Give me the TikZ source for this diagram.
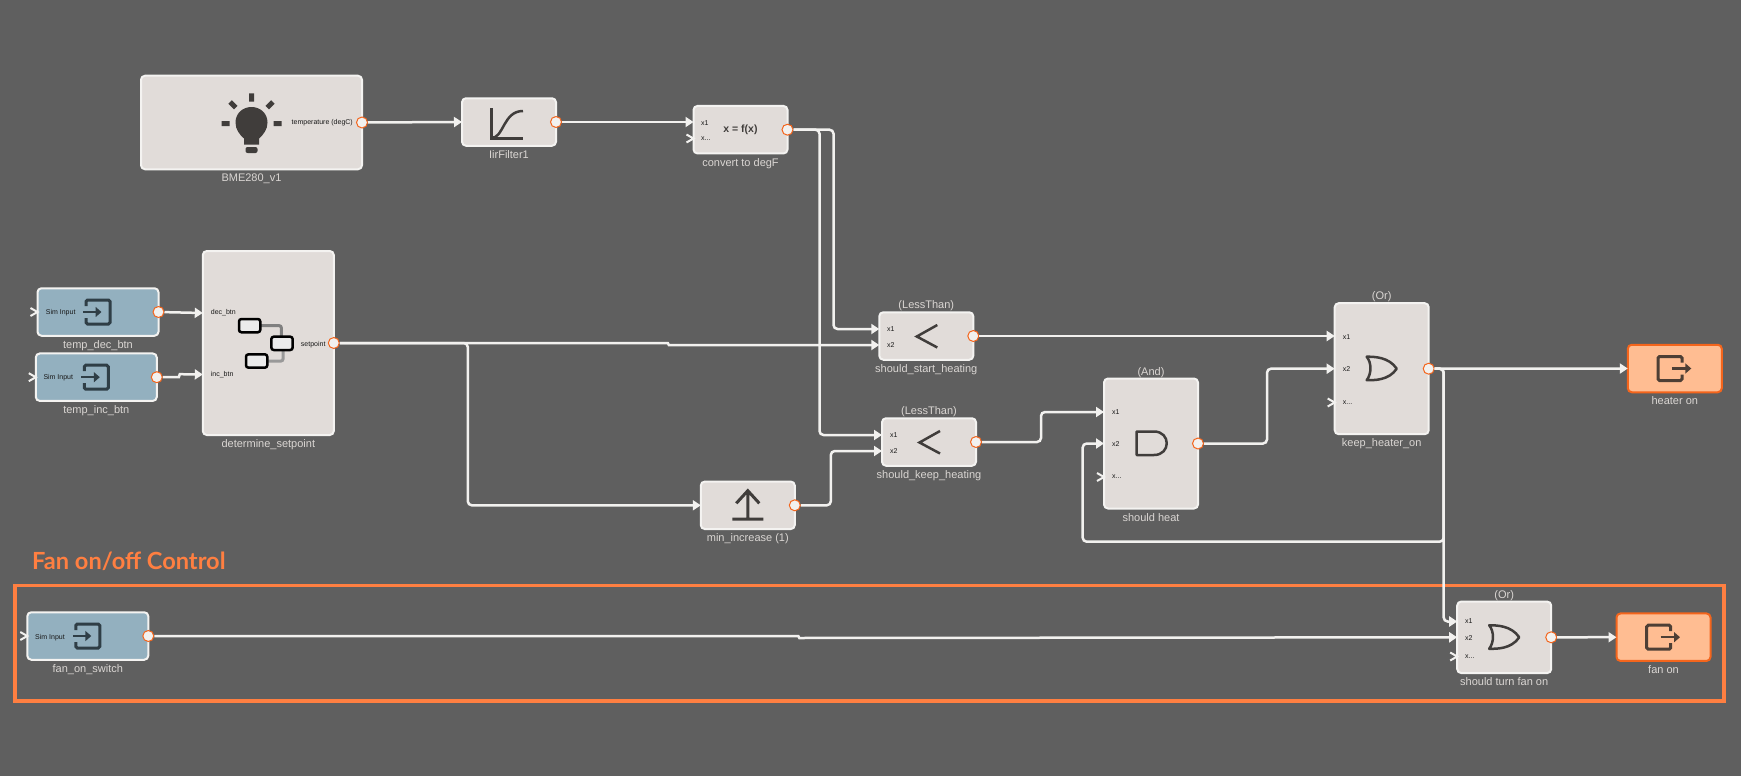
\documentclass[tikz,border=0pt]{standalone}
\usepackage{fontspec}
\setmainfont{Liberation Sans}
\newfontfamily\titlefont{Lato}
\usetikzlibrary{arrows.meta, positioning}
\definecolor{canvas}{HTML}{5F5F5F}
\definecolor{blockfill}{HTML}{E1DCD9}
\definecolor{blockline}{HTML}{F4F3F1}
\definecolor{simfill}{HTML}{93B0BF}
\definecolor{outfill}{HTML}{FFBD92}
\definecolor{outline}{HTML}{F4651C}
\definecolor{framecol}{HTML}{FF7F41}
\definecolor{wirecol}{HTML}{F2F1EF}
\definecolor{captcol}{HTML}{DAD6D3}
\definecolor{icondark}{HTML}{403D3B}
\definecolor{iconsim}{HTML}{2F3E46}
\definecolor{iconout}{HTML}{4E3F35}

\begin{document}
\begin{tikzpicture}[x=1pt, y=-1pt, node distance=4.5pt,
        block/.style={draw=blockline, fill=blockfill, rounded corners=4pt, line width=2pt, outer sep=0pt, minimum width=94pt, minimum height=47.5pt, inner sep=0pt},
        simblock/.style={block, fill=simfill, minimum width=121pt},
        outblock/.style={block, draw=outline, fill=outfill},
        port/.style={circle, draw=outline, fill=wirecol, line width=1pt, minimum size=11pt, inner sep=0pt},
        caption/.style={text=captcol, inner sep=0pt, font=\fontsize{11}{13}\selectfont},
        blocktype/.style={caption, yshift=-3.5pt},
        pinlabel/.style={text=black!90, anchor=west, inner sep=0pt, font=\fontsize{7}{8}\selectfont},
        wire/.style={draw=wirecol, line width=2.5pt, rounded corners=4pt, -{Triangle[length=8pt, width=10pt]}},
        stepwire/.style={wire, rounded corners=0pt},
        fanframe/.style={draw=framecol, line width=3.5pt, minimum width=1709pt, minimum height=115.5pt},
        openpin/.pic={\draw[wirecol, line width=2pt] (-7,-4) -- (0,0) -- (-7,4);},
        simin/.pic={\draw[iconsim, line width=3pt, rounded corners=1.5pt] (-12,-6) -- (-12,-12) -- (12,-12) -- (12,12) -- (-12,12) -- (-12,6);
            \draw[iconsim, line width=2.5pt, -{Triangle[length=6pt, width=10pt]}] (-15,0) -- (3.5,0);},
        simout/.pic={\draw[iconout, line width=3pt, rounded corners=1.5pt] (7.2,-6) -- (7.2,-12) -- (-16.8,-12) -- (-16.8,12) -- (7.2,12) -- (7.2,6);
            \draw[iconout, line width=2.5pt, -{Triangle[length=6pt, width=10pt]}] (-3,0) -- (16.5,0);},
        ltgate/.pic={\draw[icondark, line width=2.5pt] (11,-11) -- (-9.5,0.5) -- (11,11.5);},
        orgate/.pic={\draw[icondark, line width=2.5pt, line join=round] (-15,-12) .. controls (-8,-12) and (7,-12) .. (15,0) .. controls (7,12) and (-8,11.5) .. (-15,11.5) .. controls (-10,5) and (-10,-6) .. (-15,-12) -- cycle;},
        andgate/.pic={\draw[icondark, line width=2.5pt, line join=round] (-14.5,-12) -- (3,-12) .. controls (20,-12) and (20,11.5) .. (3,11.5) -- (-14.5,11.5) -- cycle;},
        bulb/.pic={\fill[icondark] (-7.5,22) -- (-7.5,16) .. controls (-12,12) and (-16,7) .. (-16,0) .. controls (-16,-9) and (-9,-15.5) .. (0,-15.5) .. controls (9,-15.5) and (16,-9) .. (16,0) .. controls (16,7) and (12,12) .. (7.5,16) -- (7.5,22) -- cycle;
            \fill[icondark, rounded corners=2pt] (-6,24.5) rectangle (6,30.5);
            \draw[icondark, line width=5pt] (0,-29) -- (0,-21) (-30,1) -- (-22,1) (22,1) -- (30,1) (-21.3,-20.5) -- (-15.7,-14.9) (21.3,-20.5) -- (15.7,-14.9);},
        iircurve/.pic={\draw[icondark, line width=2.5pt] (-17.6,-14) -- (-17.6,16.7) -- (14,16.7);
            \draw[icondark, line width=2.5pt] (-17.6,16) .. controls (-5,16) and (-6,-11) .. (14,-11);},
        submodel/.pic={\draw[black!50, line width=3pt, rounded corners=2pt] (-8,-17.3) -- (13,-17.3) -- (13,-6.3);
            \draw[black!40, line width=3pt, rounded corners=2pt] (-1,18) -- (14.7,18) -- (14.7,7);
            \draw[black, fill=black!8, line width=2.5pt, rounded corners=2.5pt] (-29.3,-24) rectangle (-8,-10.7) (3,-6.3) rectangle (24.4,7) (-22.3,11.3) rectangle (-1,24.7);},
        uparrow/.pic={\draw[icondark, line width=3pt] (-11.5,-2) -- (0,-14.6) -- (11.5,-2) (0,-14.6) -- (0,13.7) (-15.5,13.7) -- (15.5,13.7);}]

    \fill[canvas] (0,0) rectangle (1741,776);
    \useasboundingbox (0,0) rectangle (1741,776);

    \node[fanframe] (fanbox) at (869.5,643.2) {};
    \node[text=framecol, anchor=west, inner sep=0pt, font=\titlefont\bfseries\fontsize{23.6}{26}\selectfont] (fantitle) at (32,561.7) {Fan on/off Control};

    \node[block, minimum width=221pt, minimum height=93.5pt] (bme) at (251.5,122.5) {};
    \node[block] (lir) at (509,122) {};
    \node[block, font=\bfseries\fontsize{10.5}{12}\selectfont, text=icondark] (conv) at (740.5,129.7) {x = f(x)};
    \node[simblock] (dec) at (98,312) {};
    \node[simblock] (inc) at (96.3,377.2) {};
    \node[block, minimum width=131pt, minimum height=184pt] (setp) at (268.3,343) {};
    \node[block] (start) at (926.3,336) {};
    \node[block] (keep) at (929,442) {};
    \node[block] (minc) at (747.8,505.3) {};
    \node[block, minimum height=130pt] (andg) at (1151,443.5) {};
    \node[block, minimum height=131pt] (org) at (1381.7,368.7) {};
    \node[outblock] (heater) at (1674.8,368.5) {};
    \node[simblock] (fansw) at (87.8,636) {};
    \node[block, minimum height=71.5pt] (fanor) at (1504.2,637.3) {};
    \node[outblock] (fanon) at (1663.5,637.2) {};

    \node[caption, below=of bme] (bmename) {BME280\_v1};
    \node[caption, below=of lir] (lirname) {IirFilter1};
    \node[caption, below=of conv] (convname) {convert to degF};
    \node[caption, below=of dec] (decname) {temp\_dec\_btn};
    \node[caption, below=of inc] (incname) {temp\_inc\_btn};
    \node[caption, below=of setp] (setpname) {determine\_setpoint};
    \node[caption, below=of start] (startname) {should\_start\_heating};
    \node[caption, below=of keep] (keepname) {should\_keep\_heating};
    \node[caption, below=of minc] (mincname) {min\_increase (1)};
    \node[caption, below=of andg] (andname) {should heat};
    \node[caption, below=of org] (orname) {keep\_heater\_on};
    \node[caption, below=of heater] (heatername) {heater on};
    \node[caption, below=of fansw] (fanswname) {fan\_on\_switch};
    \node[caption, below=of fanor] (fanorname) {should turn fan on};
    \node[caption, below=of fanon] (fanonname) {fan on};
    \node[blocktype, above=of start] (starttype) {(LessThan)};
    \node[blocktype, above=of keep] (keeptype) {(LessThan)};
    \node[blocktype, above=of andg] (andtype) {(And)};
    \node[blocktype, above=of org] (ortype) {(Or)};
    \node[blocktype, above=of fanor] (fanortype) {(Or)};

    \node[pinlabel, anchor=east] (tempname) at (353,123) {temperature (degC)};
    \node[pinlabel] (convx1) at (701,123) {x1};
    \node[pinlabel] (convx2) at (701,138.5) {x...};
    \node[pinlabel] (decsim) at (45.7,313) {Sim Input};
    \node[pinlabel] (incsim) at (43.3,378) {Sim Input};
    \node[pinlabel] (fansim) at (35,637.3) {Sim Input};
    \node[pinlabel] (decbtn) at (210.7,313) {dec\_btn};
    \node[pinlabel] (incbtn) at (210.7,374.5) {inc\_btn};
    \node[pinlabel, anchor=east] (setname) at (325.7,344.5) {setpoint};
    \node[pinlabel] (startx1) at (887,329) {x1};
    \node[pinlabel] (startx2) at (887,345) {x2};
    \node[pinlabel] (keepx1) at (890,435) {x1};
    \node[pinlabel] (keepx2) at (890,451) {x2};
    \node[pinlabel] (andx1) at (1112,412) {x1};
    \node[pinlabel] (andx2) at (1112,444) {x2};
    \node[pinlabel] (andx3) at (1112,477) {x...};
    \node[pinlabel] (orx1) at (1342.7,337) {x1};
    \node[pinlabel] (orx2) at (1342.7,369.5) {x2};
    \node[pinlabel] (orx3) at (1342.7,402.5) {x...};
    \node[pinlabel] (fanx1) at (1465,621.5) {x1};
    \node[pinlabel] (fanx2) at (1465,638.5) {x2};
    \node[pinlabel] (fanx3) at (1465,656.5) {x...};

    \node[port] (bmeout) at (bme.east) {};
    \node[port] (lirout) at (lir.east) {};
    \node[port] (convout) at (conv.east) {};
    \node[port] (decout) at (dec.east) {};
    \node[port] (incout) at (inc.east) {};
    \node[port] (setpout) at (setp.east) {};
    \node[port] (startout) at (start.east) {};
    \node[port] (keepout) at (keep.east) {};
    \node[port] (mincout) at (minc.east) {};
    \node[port] (andout) at (andg.east) {};
    \node[port] (orout) at (org.east) {};
    \node[port] (fanswout) at (fansw.east) {};
    \node[port] (fanorout) at (fanor.east) {};

    \pic at (bme) {bulb};
    \pic at (lir) {iircurve};
    \pic at (dec) {simin};
    \pic at (inc) {simin};
    \pic at (fansw) {simin};
    \pic at (setp) {submodel};
    \pic at (start) {ltgate};
    \pic at (keep) {ltgate};
    \pic at (minc) {uparrow};
    \pic at (andg) {andgate};
    \pic at (org) {orgate};
    \pic at (fanor) {orgate};
    \pic at (heater) {simout};
    \pic at (fanon) {simout};
    \pic at (dec.west) {openpin};
    \pic at (inc.west) {openpin};
    \pic at (fansw.west) {openpin};
    \pic at (conv.west |- convx2) {openpin};
    \pic at (andg.west |- andx3) {openpin};
    \pic at (org.west |- orx3) {openpin};
    \pic at (fanor.west |- fanx3) {openpin};

    \draw[wire] (bmeout) -- (lir.west);
    \draw[wire] (lirout) -- (conv.west |- lir.west);
    \draw[wire] (convout) -- ++(46,0) |- (start.west |- startx1);
    \draw[wire] (convout) -- ++(32,0) |- (keep.west |- keepx1);
    \draw[wire] (decout) -- (setp.west |- decbtn);
    \draw[stepwire] (incout) -- ++(22,0) -- ++(1,-3) -- (setp.west |- incbtn);
    \draw[stepwire] (setpout) -- ++(334,0) -- ++(1,2) -- (start.west |- startx2);
    \draw[wire] (setpout) -- ++(134,0) |- (minc.west);
    \draw[wire] (mincout) -- ++(36,0) |- (keep.west |- keepx2);
    \draw[wire] (startout) -- (org.west |- startout);
    \draw[wire] (keepout) -- ++(65,0) |- (andg.west |- andx1);
    \draw[wire] (andout) -- ++(69,0) |- (org.west |- orout);
    \draw[wire] (orout) -- (heater.west);
    \draw[wire] (orout) -- ++(15,0) |- (fanor.west |- fanx1);
    \draw[wire] (orout) -- ++(15,0) -- ++(0,173) -- ++(-361,0) |- (andg.west |- andout);
    \draw[stepwire] (fanswout) -- ++(650,0) -- ++(1,2) -- (fanor.west);
    \draw[wire] (fanorout) -- (fanon.west);
\end{tikzpicture}
\end{document}
